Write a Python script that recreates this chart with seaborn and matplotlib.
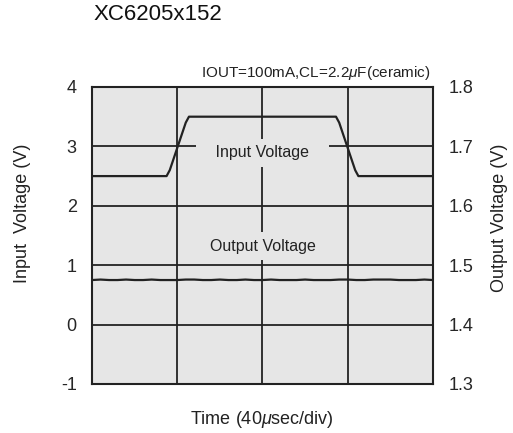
import numpy as np
import pandas as pd
import seaborn as sns
import matplotlib.pyplot as plt

# ---- data ----
# input voltage step (left axis, V) vs time (us)
in_time = [0, 35, 36.5, 44, 45.5, 114.5, 116, 123.5, 125, 160]
in_volt = [2.5, 2.5, 2.6, 3.4, 3.5, 3.5, 3.4, 2.6, 2.5, 2.5]

# output voltage (right axis, V), sampled every 4 us
out_time = np.arange(0, 161, 4)
out_volt = [1.475, 1.4758, 1.475, 1.475, 1.4758, 1.475, 1.475, 1.4758, 1.475, 1.475,
            1.475, 1.4758, 1.4758, 1.475, 1.475, 1.4758, 1.475, 1.475, 1.4758, 1.475,
            1.475, 1.4758, 1.475, 1.475, 1.475, 1.4758, 1.475, 1.475, 1.475, 1.4758,
            1.4758, 1.475, 1.475, 1.4758, 1.4758, 1.4758, 1.475, 1.475, 1.475, 1.4758, 1.475]

x_ticks = [0, 40, 80, 120, 160]
left_ticks = [-1, 0, 1, 2, 3, 4]
right_ticks = [1.3, 1.4, 1.5, 1.6, 1.7, 1.8]

df_in = pd.DataFrame({"t": in_time, "v": in_volt})
df_out = pd.DataFrame({"t": out_time, "v": out_volt})

sns.set_theme(style="ticks")
plt.rcParams["font.family"] = ["Liberation Sans", "DejaVu Sans"]
plt.rcParams["mathtext.fontset"] = "custom"
plt.rcParams["mathtext.rm"] = "Liberation Sans"
plt.rcParams["mathtext.it"] = "Liberation Sans:italic"
plt.rcParams["axes.unicode_minus"] = False

bg = "#e6e6e6"
ink = "#222222"

fig = plt.figure(figsize=(5.13, 4.33), dpi=100)
ax = fig.add_axes([0.1793, 0.1132, 0.6647, 0.6859])
ax.set_facecolor(bg)

sns.lineplot(data=df_in, x="t", y="v", ax=ax, color=ink, lw=1.6, zorder=4)
ax.set_xlim(0, 160)
ax.set_ylim(-1, 4)
ax.set_xticks(x_ticks)
ax.set_yticks(left_ticks)
ax.set_xticklabels([])
ax.grid(True, color=ink, lw=1.3)
ax.tick_params(length=0, labelsize=13, pad=11)
ax.set_xlabel("")
ax.set_ylabel("")
for s in ax.spines.values():
    s.set_color(ink)
    s.set_linewidth(1.5)

box = dict(boxstyle="square,pad=0.4", fc=bg, ec="none")
ax.text(80, 2.89, "   Input Voltage   ", ha="center", va="center", fontsize=11.5,
        color=ink, bbox=box, zorder=3)
ax.text(80, 1.32, "  Output Voltage  ", ha="center", va="center", fontsize=11.5,
        color=ink, bbox=box, zorder=3)

ax2 = ax.twinx()
sns.lineplot(data=df_out, x="t", y="v", ax=ax2, color=ink, lw=1.6)
ax2.set_ylim(1.3, 1.8)
ax2.set_yticks(right_ticks)
ax2.set_yticklabels([f"{v:.1f}" for v in right_ticks])
ax2.tick_params(length=0, labelsize=13, pad=11)
ax2.set_ylabel("")
for s in ax2.spines.values():
    s.set_visible(False)

# axis titles placed in figure pixels
W, H = 513, 433
fig.text(262 / W, 1 - 420 / H, "Time (40$\\mu$sec/div)", fontsize=13, ha="center", va="center", color=ink)
fig.text(23 / W, 1 - 213 / H, "Input  Voltage (V)", fontsize=13, rotation=90,
         ha="center", va="center", color=ink)
fig.text(500 / W, 1 - 218 / H, "Output Voltage (V)", fontsize=13, rotation=90,
         ha="center", va="center", color=ink)

fig.text(93 / W, 1 - 20 / H, "XC6205x152", fontsize=16, ha="left", va="baseline", color="#111111")
fig.text(431 / W, 1 - 77 / H, "IOUT=100mA,CL=2.2$\\mu$F(ceramic)", fontsize=11,
         ha="right", va="baseline", color=ink)

fig.savefig("out.png", dpi=100, facecolor="white")
